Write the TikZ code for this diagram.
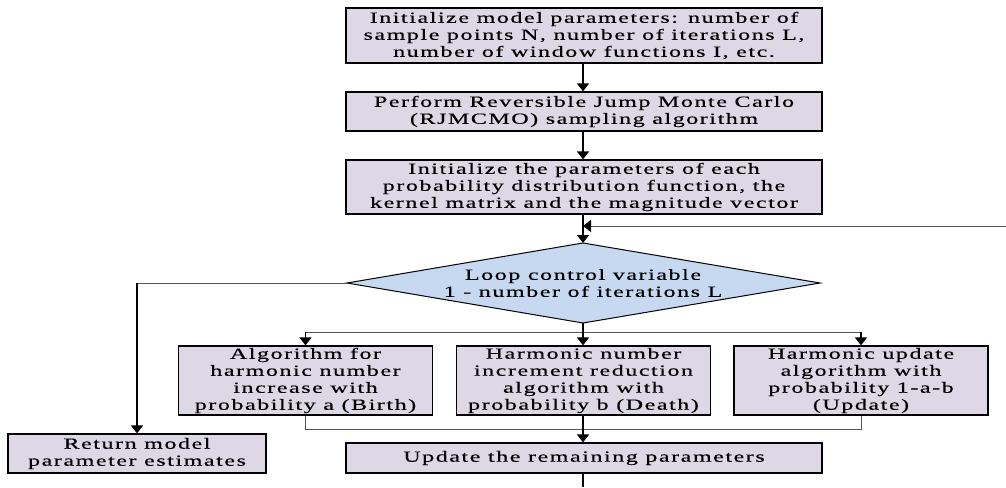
\documentclass[tikz,border=0pt]{standalone}
\usepackage{fontspec}
\setmainfont{Liberation Serif}[FakeStretch=1.55,LetterSpace=10,FakeBold=0.4]
\usetikzlibrary{arrows.meta}
\definecolor{boxfill}{HTML}{DDD7E6}
\definecolor{diafill}{HTML}{C6D9F0}
\definecolor{linegray}{HTML}{555555}
\begin{document}
\begin{tikzpicture}[x=1pt,y=-1pt,
  box/.style={draw=black, line width=1.2pt, fill=boxfill, align=center, inner sep=0pt, font=\fontsize{15.5}{17}\selectfont},
  arr/.style={line width=1.5pt, -{Triangle[length=8pt,width=12pt]}},
  thinln/.style={line width=1pt, draw=linegray},
  thinarr/.style={line width=1pt, draw=linegray, -{Triangle[length=8pt,width=12pt,color=black,fill=black]}}]
\useasboundingbox (0,0) rectangle (1006,487);

\node[box, minimum width=476pt, minimum height=55pt] (b1) at (584,35.5)
  {Initialize model parameters: number of\\sample points N, number of iterations L,\\number of window functions I, etc.};
\node[box, minimum width=476pt, minimum height=39pt] (b2) at (584,111.5)
  {Perform Reversible Jump Monte Carlo\\(RJMCMO) sampling algorithm};
\node[box, minimum width=476pt, minimum height=54pt] (b3) at (584,187)
  {Initialize the parameters of each\\probability distribution function, the\\kernel matrix and the magnitude vector};

\coordinate (dL) at (347,283);
\coordinate (dT) at (583,243);
\coordinate (dR) at (820,283);
\coordinate (dB) at (583,323);
\draw[line width=1pt, fill=diafill] (dL) -- (dT) -- (dR) -- (dB) -- cycle;
\node[align=center, inner sep=0pt, font=\fontsize{15.5}{17}\selectfont] (dtext) at (583,283)
  {Loop control variable\\1 - number of iterations L};

\node[box, minimum width=254pt, minimum height=69pt] (b4) at (305.5,380.5)
  {Algorithm for\\harmonic number\\increase with\\probability a (Birth)};
\node[box, minimum width=254pt, minimum height=69pt] (b5) at (583.5,380.5)
  {Harmonic number\\increment reduction\\algorithm with\\probability b (Death)};
\node[box, minimum width=254pt, minimum height=69pt] (b6) at (861,380.5)
  {Harmonic update\\algorithm with\\probability 1-a-b\\(Update)};

\node[box, minimum width=476pt, minimum height=30pt] (up) at (584,458)
  {Update the remaining parameters};
\node[box, minimum width=258pt, minimum height=39pt] (ret) at (137,453.5)
  {Return model\\parameter estimates};

\coordinate (loopin) at (1006,226);
\coordinate (loopj) at (583,226);
\coordinate (br) at (583,332);
\coordinate (mg) at (583,429);
\coordinate (bot) at (583,487);

\draw[arr] (b1.south -| dT) -- (b2.north -| dT);
\draw[arr] (b2.south -| dT) -- (b3.north -| dT);
\draw[arr] (b3.south -| dT) -- (dT);
\draw[thinarr] (loopin) -- (loopj);

\draw[thinln] (dL) -- (dL -| ret.north);
\draw[arr] (dL -| ret.north) -- (ret.north);

\draw[line width=1.5pt] (dB) -- (br);
\draw[thinln] (b4.north |- br) -- (b6.north |- br);
\draw[arr] (b4.north |- br) -- (b4.north);
\draw[arr] (br) -- (b5.north -| br);
\draw[arr] (b6.north |- br) -- (b6.north);

\draw[thinln] (b4.south) -- (b4.south |- mg) -- (b6.south |- mg) -- (b6.south);
\draw[arr] (b5.south -| br) -- (up.north -| br);
\draw[line width=1.5pt] (up.south -| br) -- (bot);
\end{tikzpicture}
\end{document}
